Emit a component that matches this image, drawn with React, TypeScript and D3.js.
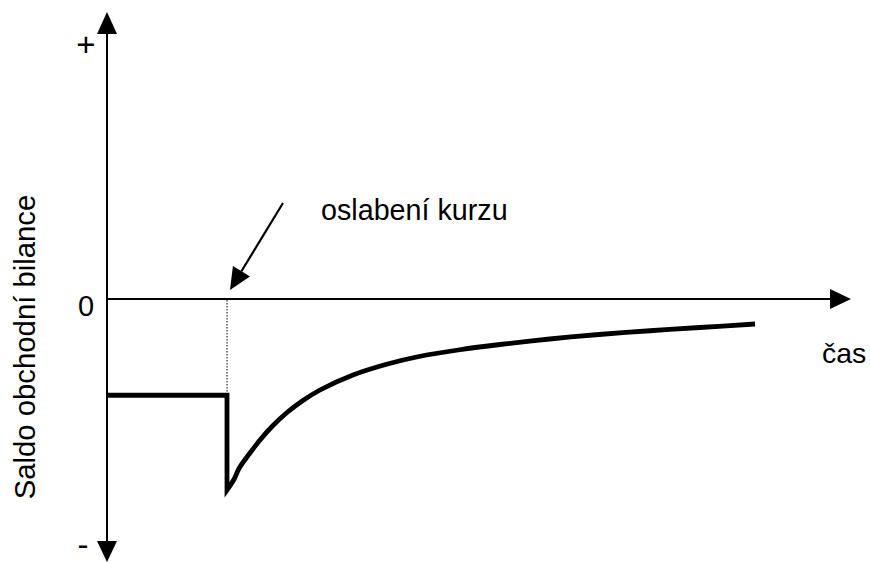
import React from "react";
import * as d3 from "d3";

// Conceptual data: time (x) vs trade balance (y)
const preShockTime = [0, 10];
const preShockBalance = [-3.85, -3.85];
const shockTime = 10;
const shockLow = -7.64;
const recoveryTime = [10, 10.6, 11, 11.9, 12.75, 13.75, 15, 16.33, 17.75, 20.5, 23.3, 26, 29.4, 32.75, 36.9, 41, 45.25, 49.4, 54];
const recoveryBalance = [-7.64, -7.2, -6.78, -6.17, -5.64, -5.1, -4.54, -4.06, -3.64, -3.04, -2.61, -2.3, -2.03, -1.82, -1.6, -1.42, -1.27, -1.14, -1.0];

const yAxisLabel = "Saldo obchodní bilance";
const xAxisLabel = "čas";
const annotationText = "oslabení kurzu";
const plusLabel = "+";
const minusLabel = "-";
const zeroLabel = "0";

const W = 870;
const H = 562;

export default function App() {
  const x = d3.scaleLinear().domain([0, 62]).range([107, 851]);
  const y = d3.scaleLinear().domain([-10, 10]).range([549, 49]);

  const pre = preShockTime.map((t, i) => [t, preShockBalance[i]] as [number, number]);
  const rec = recoveryTime.map((t, i) => [t, recoveryBalance[i]] as [number, number]);

  const linePre = d3.line<[number, number]>().x((d) => x(d[0])).y((d) => y(d[1]));
  const lineRec = d3
    .line<[number, number]>()
    .x((d) => x(d[0]))
    .y((d) => y(d[1]))
    .curve(d3.curveCatmullRom.alpha(0.5));

  const stepPath = linePre([...pre, [shockTime, shockLow]]) || "";
  const recPath = (lineRec(rec) || "").replace(/^M[^A-Za-z]*/, "");
  const fullPath = stepPath + recPath;

  const x0 = x(0);
  const y0 = y(0);
  const xEnd = x(62);
  const xs = x(shockTime);

  const font = "Arial, 'Liberation Sans', sans-serif";

  // annotation arrow
  const ax1 = 283, ay1 = 203, ax2 = 230, ay2 = 290;
  const ang = Math.atan2(ay2 - ay1, ax2 - ax1);
  const hl = 22, hw = 10;
  const bx = ax2 - hl * Math.cos(ang);
  const by = ay2 - hl * Math.sin(ang);
  const px = -Math.sin(ang), py = Math.cos(ang);
  const headPts = `${ax2},${ay2} ${bx + px * hw},${by + py * hw} ${bx - px * hw},${by - py * hw}`;

  return (
    <svg
      width={W}
      height={H}
      style={{ position: "absolute", left: 0, top: 0, background: "#fff" }}
      fontFamily={font}
    >
      <rect x={0} y={0} width={W} height={H} fill="#fff" />
      {/* y axis */}
      <line x1={x0} y1={30} x2={x0} y2={545} stroke="#000" strokeWidth={2} />
      <polygon points={`${x0},12 ${x0 - 10},34 ${x0 + 10},34`} fill="#000" />
      <polygon points={`${x0},562 ${x0 - 10},541 ${x0 + 10},541`} fill="#000" />
      {/* x axis */}
      <line x1={x0} y1={y0} x2={xEnd - 18} y2={y0} stroke="#000" strokeWidth={1.8} />
      <polygon points={`${xEnd},${y0} ${xEnd - 21},${y0 - 10} ${xEnd - 21},${y0 + 10}`} fill="#000" />

      {/* dotted guide */}
      <line
        x1={xs}
        y1={y0 + 1}
        x2={xs}
        y2={y(-3.85)}
        stroke="#000"
        strokeWidth={1}
        strokeDasharray="1.5,1.5"
      />

      {/* curve */}
      <path d={fullPath} fill="none" stroke="#000" strokeWidth={4.8} strokeLinejoin="miter" strokeMiterlimit={4} />

      {/* annotation */}
      <line x1={ax1} y1={ay1} x2={bx} y2={by} stroke="#000" strokeWidth={2.2} />
      <polygon points={headPts} fill="#000" />
      <text x={321} y={220} fontSize={28.7} fill="#000">
        {annotationText}
      </text>

      {/* labels */}
      <text x={86} y={56} fontSize={33} textAnchor="middle" fill="#000">
        {plusLabel}
      </text>
      <text x={83} y={556} fontSize={33} textAnchor="middle" fill="#000">
        {minusLabel}
      </text>
      <text x={86} y={316} fontSize={29} textAnchor="middle" fill="#000">
        {zeroLabel}
      </text>
      <text x={822} y={363} fontSize={28.5} fill="#000">
        {xAxisLabel}
      </text>
      <text
        transform={`translate(35,347) rotate(-90)`}
        textAnchor="middle"
        fontSize={29.3}
        fill="#000"
      >
        {yAxisLabel}
      </text>
    </svg>
  );
}
